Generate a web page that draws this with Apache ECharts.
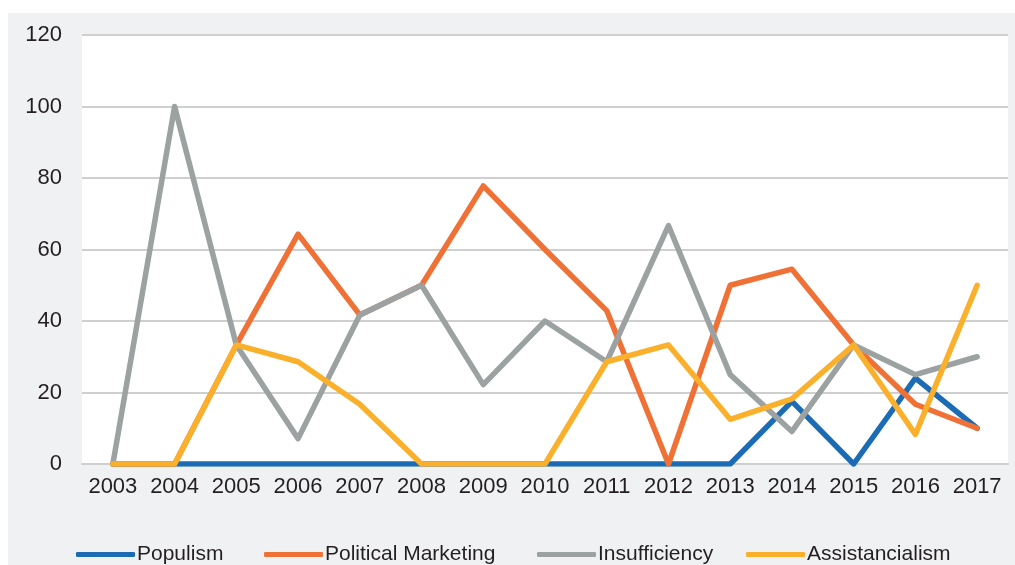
<!DOCTYPE html>
<html>
<head>
<meta charset="utf-8">
<style>
  html, body { margin: 0; padding: 0; background: #ffffff; }
  #chart { width: 1015px; height: 565px; }
</style>
<script src="https://cdn.jsdelivr.net/npm/echarts@6/dist/echarts.min.js"></script>
</head>
<body>
<div id="chart"></div>
<script>
// Years on the horizontal axis
const years = ['2003', '2004', '2005', '2006', '2007', '2008', '2009', '2010',
               '2011', '2012', '2013', '2014', '2015', '2016', '2017'];

// Share per category and year (%)
const populism        = [0, 0, 0, 0, 0, 0, 0, 0, 0, 0, 0, 17.5, 0, 24, 10];
const politicalMkt    = [0, 0, 33.3, 64.3, 41.7, 50, 77.8, 60, 42.9, 0, 50, 54.5, 33.3, 16.7, 10];
const insufficiency   = [0, 100, 33.3, 7.1, 41.7, 50, 22.2, 40, 28.6, 66.7, 25, 9.1, 33.3, 25, 30];
const assistancialism = [0, 0, 33.3, 28.6, 16.7, 0, 0, 0, 28.6, 33.3, 12.5, 18.2, 33.3, 8.3, 50];

const seriesNames  = ['Populism', 'Political Marketing', 'Insufficiency', 'Assistancialism'];
const seriesColors = ['#1c6cb5', '#f07136', '#9ca1a1', '#fbb02c'];

const yTicks = { min: 0, max: 120, step: 20 };

const FONT = "'Liberation Sans', Arial, sans-serif";
const TEXT = '#231f20';

function lineSeries(name, data, color) {
  return {
    name: name,
    type: 'line',
    data: data,
    symbol: 'none',
    showSymbol: false,
    lineStyle: { color: color, width: 5.5, cap: 'round', join: 'round' },
    itemStyle: { color: color },
    emphasis: { disabled: true },
    animation: false
  };
}

// One legend block per series so each entry sits at its own slot
const legendLefts = [71, 259, 532, 741];
const legends = seriesNames.map((name, i) => ({
  top: 539,
  left: legendLefts[i],
  itemWidth: 59,
  itemHeight: 5,
  icon: 'roundRect',
  selectedMode: false,
  textStyle: { fontFamily: FONT, fontSize: 21, color: TEXT, padding: [0, 0, 0, -3] },
  data: [name]
}));

const chart = echarts.init(document.getElementById('chart'), null, { renderer: 'canvas' });
chart.setOption({
  backgroundColor: '#ffffff',
  animation: false,
  graphic: [{
    type: 'rect',
    z: -10,
    shape: { x: 8, y: 13, width: 1007, height: 552 },
    style: { fill: '#f0f1f3' }
  }],
  grid: {
    left: 82, right: 7, top: 35, bottom: 101,
    show: true, backgroundColor: '#ffffff', borderWidth: 0
  },
  legend: legends,
  xAxis: {
    type: 'category',
    data: years,
    boundaryGap: true,
    axisLine: { show: true, lineStyle: { color: '#cfcfcf', width: 2 } },
    axisTick: { show: false },
    axisLabel: { fontFamily: FONT, fontSize: 22, color: TEXT, margin: 12, interval: 0 }
  },
  yAxis: {
    type: 'value',
    min: yTicks.min, max: yTicks.max, interval: yTicks.step,
    axisLine: { show: false },
    axisTick: { show: false },
    splitLine: { lineStyle: { color: '#cfcfcf', width: 2 } },
    axisLabel: { fontFamily: FONT, fontSize: 22, color: TEXT, margin: 20 }
  },
  series: seriesNames.map((name, i) =>
    lineSeries(name, [populism, politicalMkt, insufficiency, assistancialism][i], seriesColors[i]))
});
</script>
</body>
</html>
